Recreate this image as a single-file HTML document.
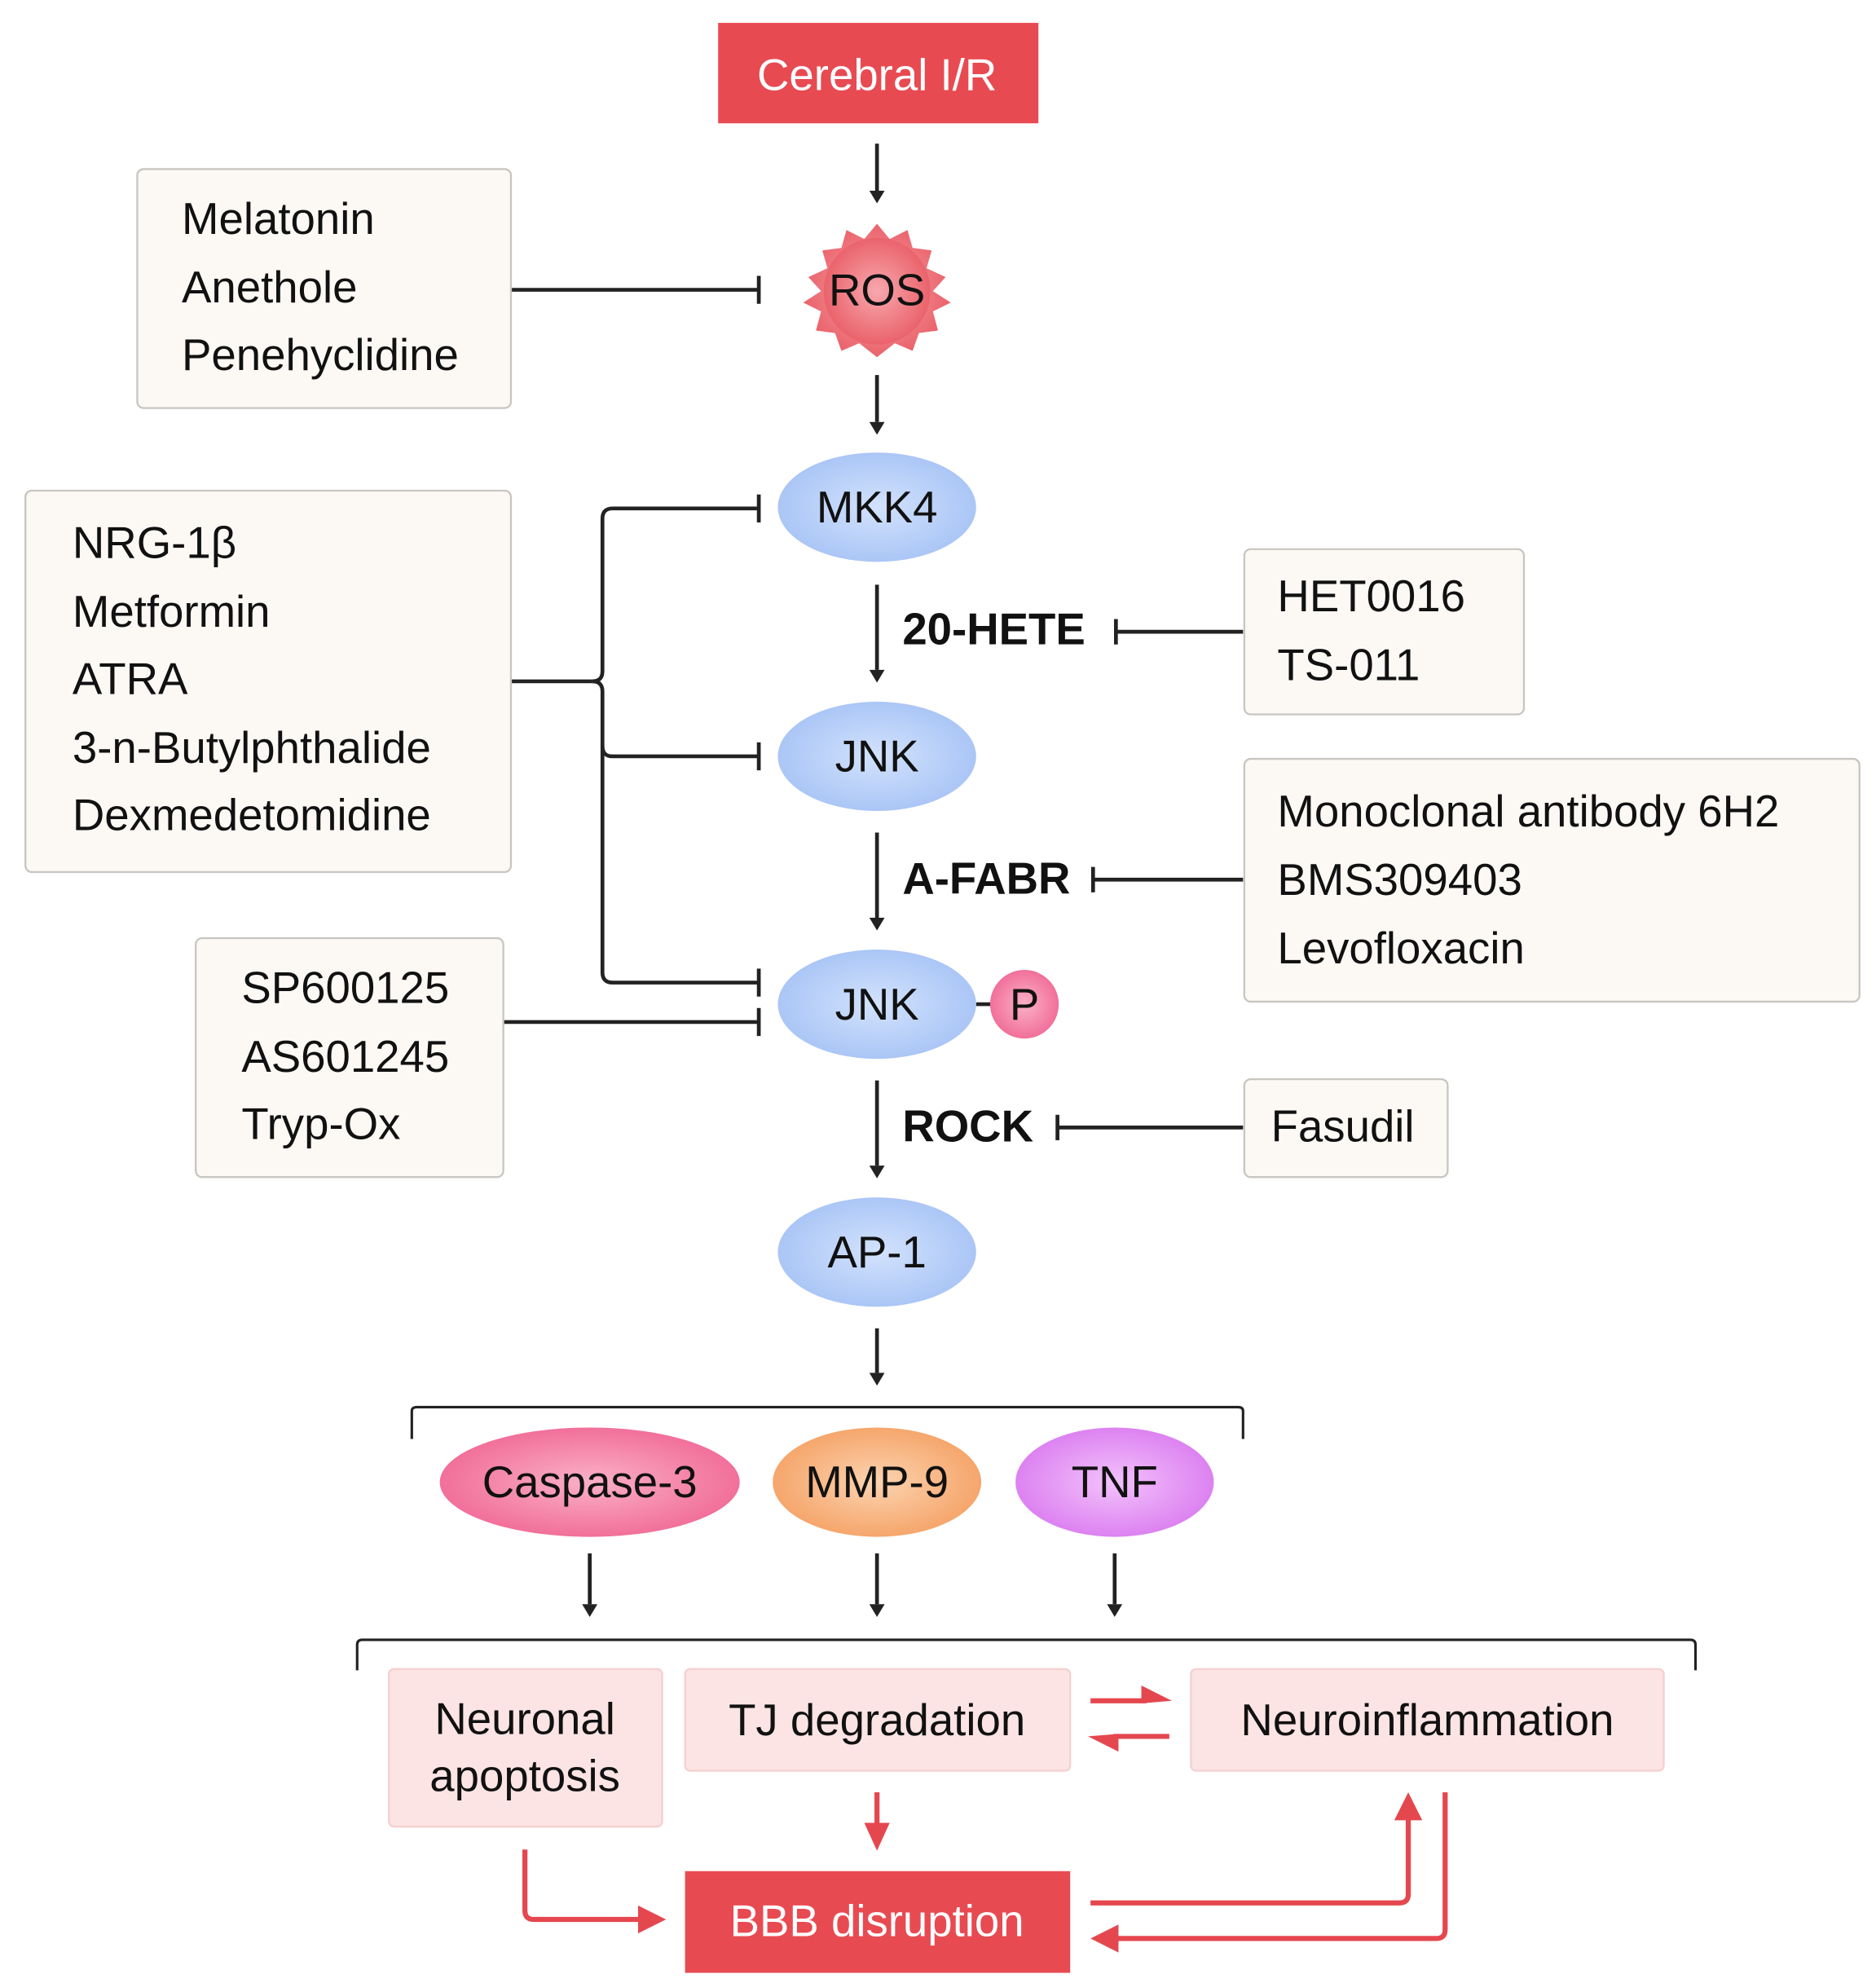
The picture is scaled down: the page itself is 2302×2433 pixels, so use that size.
<!DOCTYPE html>
<html><head><meta charset="utf-8"><style>html,body{margin:0;padding:0;background:#fff}svg{display:block}</style></head>
<body>
<svg width="2302" height="2433" viewBox="0 0 1476 1560" xmlns="http://www.w3.org/2000/svg" font-family="'Liberation Sans',sans-serif">
<defs>
<radialGradient id="blue" cx="50%" cy="50%" r="60%"><stop offset="0" stop-color="#d2e2fc"/><stop offset="1" stop-color="#a3c0f5"/></radialGradient>
<radialGradient id="pink" cx="50%" cy="50%" r="60%"><stop offset="0" stop-color="#fbb0c8"/><stop offset="1" stop-color="#ef6391"/></radialGradient>
<radialGradient id="orange" cx="50%" cy="50%" r="60%"><stop offset="0" stop-color="#fcd3b0"/><stop offset="1" stop-color="#f49d5e"/></radialGradient>
<radialGradient id="violet" cx="50%" cy="50%" r="60%"><stop offset="0" stop-color="#f3c2fb"/><stop offset="1" stop-color="#d875ef"/></radialGradient>
<radialGradient id="ros" cx="50%" cy="50%" r="60%"><stop offset="0" stop-color="#f7a8ae"/><stop offset="1" stop-color="#e8555e"/></radialGradient>
</defs>
<g stroke="#222" stroke-width="3" fill="none">
<g>
<line x1="690" y1="113" x2="690" y2="150"/><line x1="690" y1="295" x2="690" y2="332"/>
<line x1="690" y1="460" x2="690" y2="527"/><line x1="690" y1="655" x2="690" y2="722"/>
<line x1="690" y1="850" x2="690" y2="917"/><line x1="690" y1="1045" x2="690" y2="1080"/>
<line x1="464" y1="1222" x2="464" y2="1262"/><line x1="690" y1="1222" x2="690" y2="1262"/><line x1="877" y1="1222" x2="877" y2="1262"/>
</g>
<line x1="402" y1="228" x2="597" y2="228"/><line x1="597" y1="217" x2="597" y2="239"/>
<line x1="402" y1="536" x2="466" y2="536"/>
<path d="M466,536 Q474,536 474,528 V408 Q474,400 482,400 H597"/>
<path d="M466,536 Q474,536 474,544 V765 Q474,773 482,773 H597"/>
<path d="M474,587 Q474,595 482,595 H597"/>
<line x1="597" y1="389" x2="597" y2="411"/><line x1="597" y1="584" x2="597" y2="606"/><line x1="597" y1="762" x2="597" y2="784"/>
<line x1="396" y1="804" x2="597" y2="804"/><line x1="597" y1="793" x2="597" y2="815"/>
<line x1="978" y1="497" x2="878" y2="497"/><line x1="878" y1="487" x2="878" y2="507"/>
<line x1="978" y1="692" x2="860" y2="692"/><line x1="860" y1="682" x2="860" y2="702"/>
<line x1="978" y1="887" x2="832" y2="887"/><line x1="832" y1="877" x2="832" y2="897"/>
<line x1="768" y1="790" x2="780" y2="790"/>
<path d="M324,1132 V1110 Q324,1107 328,1107 H974 Q978,1107 978,1110 V1132" stroke-width="2"/>
<path d="M281,1314 V1294 Q281,1290 285,1290 H1330 Q1334,1290 1334,1294 V1314" stroke-width="2"/>
</g>
<g fill="#222">
<path d="M684,150 L696,150 L690,160 z"/><path d="M684,332 L696,332 L690,342 z"/>
<path d="M684,527 L696,527 L690,537 z"/><path d="M684,722 L696,722 L690,732 z"/>
<path d="M684,917 L696,917 L690,927 z"/><path d="M684,1080 L696,1080 L690,1090 z"/>
<path d="M458,1262 L470,1262 L464,1272 z"/><path d="M684,1262 L696,1262 L690,1272 z"/><path d="M871,1262 L883,1262 L877,1272 z"/>
</g>
<g stroke="#e5474f" stroke-width="4" fill="none">
<line x1="858" y1="1338" x2="902" y2="1338"/><line x1="920" y1="1366" x2="876" y2="1366"/>
<line x1="690" y1="1410" x2="690" y2="1438"/>
<path d="M413,1455 V1503 Q413,1510 420,1510 H506"/>
<path d="M858,1497 H1101 Q1108,1497 1108,1490 V1428"/>
<path d="M1137,1410 V1518 Q1137,1525 1130,1525 H876"/>
</g>
<g fill="#e5474f">
<path d="M898,1326 L922,1338 L898,1340 z"/><path d="M880,1378 L856,1366 L880,1364 z"/>
<path d="M680,1434 L700,1434 L690,1456 z"/>
<path d="M502,1499 L524,1510 L502,1521 z"/>
<path d="M1097,1432 L1108,1410 L1119,1432 z"/>
<path d="M880,1514 L858,1525 L880,1536 z"/>
</g>
<g fill="#fcf9f5" stroke="#c9c6c2" stroke-width="1.5">
<rect x="108" y="133" width="294" height="188" rx="5"/>
<rect x="20" y="386" width="382" height="300" rx="5"/>
<rect x="154" y="738" width="242" height="188" rx="5"/>
<rect x="979" y="432" width="220" height="130" rx="5"/>
<rect x="979" y="597" width="484" height="191" rx="5"/>
<rect x="979" y="849" width="160" height="77" rx="5"/>
</g>
<g fill="#fce4e4" stroke="#f6d0d0" stroke-width="1.5">
<rect x="306" y="1313" width="215" height="124" rx="4"/>
<rect x="539" y="1313" width="303" height="80" rx="4"/>
<rect x="937" y="1313" width="372" height="80" rx="4"/>
</g>
<rect x="565" y="18" width="252" height="79" fill="#e84a52"/>
<rect x="539" y="1472" width="303" height="80" fill="#e84a52"/>
<polygon fill="url(#ros)" points="
690,176 700,188 714,181 718,195 733,197 729,211 744,218 734,229 748,238 734,245 738,260 723,262 718,276 704,270 690,281 676,270 662,276 657,262 642,260 646,245 632,238 646,229 636,218 651,211 647,197 662,195 666,181 680,188"/>
<circle cx="690" cy="229" r="42" fill="url(#ros)"/>
<ellipse cx="690" cy="399" rx="78" ry="43" fill="url(#blue)"/>
<ellipse cx="690" cy="595" rx="78" ry="43" fill="url(#blue)"/>
<ellipse cx="690" cy="790" rx="78" ry="43" fill="url(#blue)"/>
<ellipse cx="690" cy="985" rx="78" ry="43" fill="url(#blue)"/>
<circle cx="806" cy="790" r="27" fill="url(#pink)"/>
<ellipse cx="464" cy="1166" rx="118" ry="43" fill="url(#pink)"/>
<ellipse cx="690" cy="1166" rx="82" ry="43" fill="url(#orange)"/>
<ellipse cx="877" cy="1166" rx="78" ry="43" fill="url(#violet)"/>
<g font-size="35" fill="#111">
<text x="143" y="184">Melatonin</text><text x="143" y="238">Anethole</text><text x="143" y="291">Penehyclidine</text>
<text x="57" y="439">NRG-1β</text><text x="57" y="493">Metformin</text><text x="57" y="546">ATRA</text><text x="57" y="600">3-n-Butylphthalide</text><text x="57" y="653">Dexmedetomidine</text>
<text x="190" y="789">SP600125</text><text x="190" y="843">AS601245</text><text x="190" y="896">Tryp-Ox</text>
<text x="1005" y="481">HET0016</text><text x="1005" y="535">TS-011</text>
<text x="1005" y="650">Monoclonal antibody 6H2</text><text x="1005" y="704">BMS309403</text><text x="1005" y="758">Levofloxacin</text>
<text x="1000" y="898">Fasudil</text>
<g text-anchor="middle">
<text x="690" y="240">ROS</text><text x="690" y="411">MKK4</text><text x="690" y="607">JNK</text><text x="690" y="802">JNK</text><text x="806" y="802">P</text><text x="690" y="997">AP-1</text>
<text x="464" y="1178">Caspase-3</text><text x="690" y="1178">MMP-9</text><text x="877" y="1178">TNF</text>
<text x="413" y="1364">Neuronal</text><text x="413" y="1409">apoptosis</text>
<text x="690" y="1365">TJ degradation</text><text x="1123" y="1365">Neuroinflammation</text>
<text x="690" y="71" fill="#fff">Cerebral I/R</text><text x="690" y="1523" fill="#fff">BBB disruption</text>
</g>
<g font-weight="bold"><text x="710" y="507">20-HETE</text><text x="710" y="703">A-FABR</text><text x="710" y="898">ROCK</text></g>
</g>
</svg>
</body></html>
